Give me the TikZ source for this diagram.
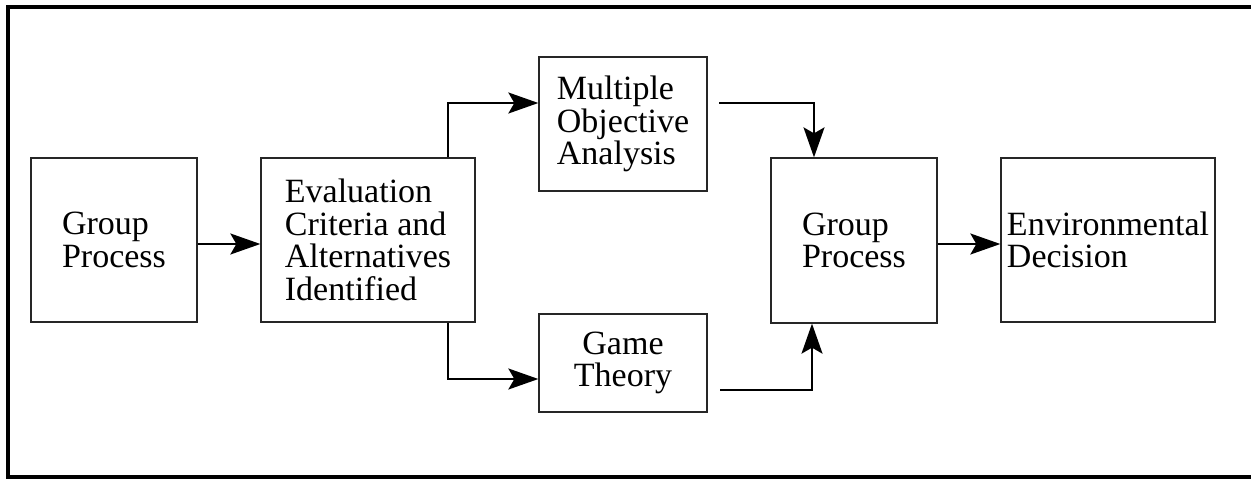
\documentclass[tikz,border=0pt]{standalone}
\usepackage{fontspec}
\setmainfont{Liberation Serif}
\usetikzlibrary{arrows.meta}
\begin{document}
\begin{tikzpicture}[x=1pt,y=-1pt,
  blk/.style={draw=black!85,line width=1.3pt,inner sep=0pt,align=left,
    font=\fontsize{34}{32.5}\selectfont},
  arr/.style={line width=2pt,-{Stealth[length=30pt,width=21pt,inset=6pt]}}]
\useasboundingbox (0,0) rectangle (1251,479);
\draw[line width=4pt] (1262,7) -- (8,7) -- (8,477) -- (1262,477);
\node[blk,minimum width=166pt,minimum height=164pt] (gp1) at (114,240) {Group\\Process};
\node[blk,minimum width=214pt,minimum height=164pt] (eval) at (368,240) {Evaluation\\Criteria and\\Alternatives\\Identified};
\node[blk,minimum width=168pt,minimum height=134pt] (moa) at (623,124) {Multiple\\Objective\\Analysis};
\node[blk,align=center,minimum width=168pt,minimum height=98pt] (gt) at (623,363) {Game\\Theory};
\node[blk,minimum width=166pt,minimum height=165pt] (gp2) at (854,240.5) {Group\\Process};
\node[blk,minimum width=214pt,minimum height=164pt] (env) at (1108,240) {Environmental\\Decision};
\coordinate (a1) at (719,103);
\coordinate (a2) at (720,390);
\draw[arr] (gp1.east |- 0,244) -- (eval.west |- 0,244);
\draw[arr] (eval.north -| 448,0) |- (moa.west |- 0,103);
\draw[arr] (eval.south -| 448,0) |- (gt.west |- 0,379);
\draw[arr] (a1) -| (gp2.north -| 814,0);
\draw[arr] (a2) -| (gp2.south -| 812,0);
\draw[arr] (gp2.east |- 0,244) -- (env.west |- 0,244);
\end{tikzpicture}
\end{document}
